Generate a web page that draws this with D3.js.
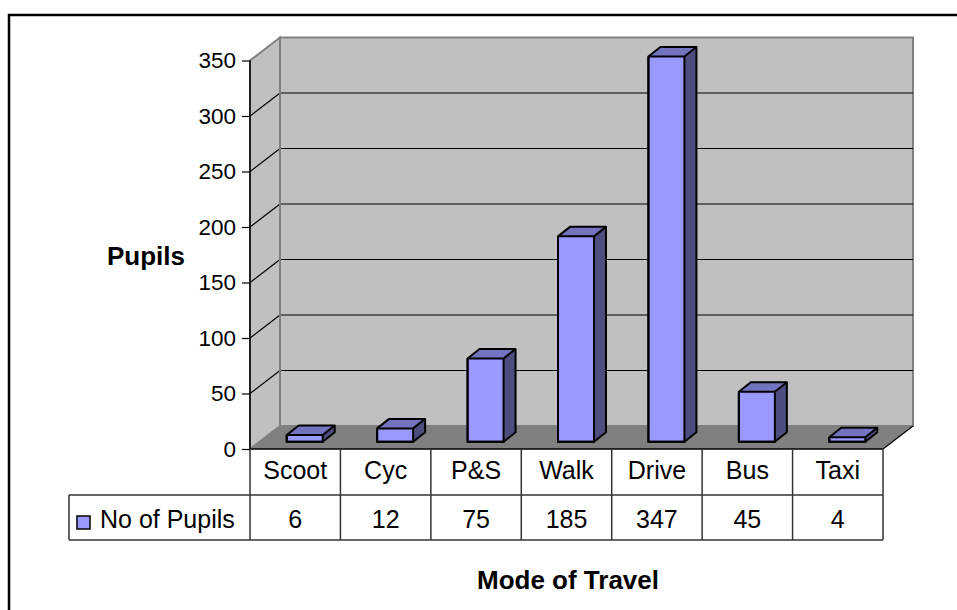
<!DOCTYPE html>
<html>
<head>
<meta charset="utf-8">
<script src="https://cdn.jsdelivr.net/npm/d3@7"></script>
<style>
  body { margin: 0; background: #fff; }
  svg text { font-family: Arial, "Liberation Sans", sans-serif; fill: #000; }
</style>
</head>
<body>
<script>
// chart values
var categories = ["Scoot", "Cyc", "P&S", "Walk", "Drive", "Bus", "Taxi"];
var pupils = [6, 12, 75, 185, 347, 45, 4];
var yTicks = [0, 50, 100, 150, 200, 250, 300, 350];
var seriesName = "No of Pupils";

var W = 957, H = 610;
// 3d depth of the plot box and of each bar
var depth = {dx: 30, dy: -23};
var barFront = {dx: 9.5, dy: -7.3};
var barDepth = {dx: 12, dy: -9.5};
var barW = 36;

var svg = d3.select("body").append("svg")
    .attr("width", W)
    .attr("height", H);

// outer frame, runs off the right and bottom edge
svg.append("rect")
    .attr("x", 9).attr("y", 15)
    .attr("width", 980).attr("height", 640)
    .style("fill", "none")
    .style("stroke", "#000")
    .style("stroke-width", 2.5);

var x = d3.scaleBand().domain(categories).range([250, 883]);
var y = d3.scaleLinear().domain([0, 350]).range([449, 60.5]);

var x0 = x.range()[0], x1 = x.range()[1];
var yTop = y(350), yBot = y(0);

function pts(a) {
    return a.map(function(p){ return p[0] + "," + p[1]; }).join(" ");
}

// side wall
svg.append("polygon")
    .attr("points", pts([[x0, yBot], [x0, yTop], [x0 + depth.dx, yTop + depth.dy],
                         [x0 + depth.dx, yBot + depth.dy]]))
    .style("fill", "#C0C0C0")
    .style("stroke", "#808080")
    .style("stroke-width", 2);

// back wall
svg.append("rect")
    .attr("x", x0 + depth.dx)
    .attr("y", yTop + depth.dy)
    .attr("width", x1 - x0)
    .attr("height", yBot - yTop)
    .style("fill", "#C0C0C0")
    .style("stroke", "#808080")
    .style("stroke-width", 2);

// gridlines on back wall and side wall
var grid = yTicks.filter(function(t){ return t > 0 && t < 350; });
svg.selectAll(".gridBack").data(grid).enter().append("line")
    .attr("x1", x0 + depth.dx).attr("x2", x1 + depth.dx)
    .attr("y1", function(d){ return y(d) + depth.dy; })
    .attr("y2", function(d){ return y(d) + depth.dy; })
    .style("stroke", "#000").style("stroke-width", 1.2);
svg.selectAll(".gridSide").data(grid).enter().append("line")
    .attr("x1", x0).attr("x2", x0 + depth.dx)
    .attr("y1", function(d){ return y(d); })
    .attr("y2", function(d){ return y(d) + depth.dy; })
    .style("stroke", "#000").style("stroke-width", 1.2);

// floor
svg.append("polygon")
    .attr("points", pts([[x0, yBot], [x1, yBot], [x1 + depth.dx, yBot + depth.dy],
                         [x0 + depth.dx, yBot + depth.dy]]))
    .style("fill", "#808080");
svg.append("line")
    .attr("x1", x1).attr("y1", yBot)
    .attr("x2", x1 + depth.dx).attr("y2", yBot + depth.dy)
    .style("stroke", "#000").style("stroke-width", 1.2);
svg.append("line")
    .attr("x1", x0 + depth.dx).attr("y1", yBot + depth.dy)
    .attr("x2", x0 + depth.dx).attr("y2", yTop + depth.dy)
    .style("stroke", "#808080").style("stroke-width", 2);

// bars
var bars = svg.selectAll(".bar").data(pupils).enter().append("g");
bars.each(function(v, i){
    var g = d3.select(this);
    var bx = x(categories[i]) + (x.bandwidth() - barW) / 2 + barFront.dx;
    var top = y(v) + barFront.dy, bot = y(0) + barFront.dy;
    g.append("polygon")
        .attr("points", pts([[bx + barW, top], [bx + barW + barDepth.dx, top + barDepth.dy],
                             [bx + barW + barDepth.dx, bot + barDepth.dy], [bx + barW, bot]]))
        .style("fill", "#4D4D80");
    g.append("polygon")
        .attr("points", pts([[bx, top], [bx + barDepth.dx, top + barDepth.dy],
                             [bx + barW + barDepth.dx, top + barDepth.dy], [bx + barW, top]]))
        .style("fill", "#7373BF");
    g.append("rect")
        .attr("x", bx).attr("y", top)
        .attr("width", barW).attr("height", bot - top)
        .style("fill", "#9999FF");
    // outline over everything
    g.append("polygon")
        .attr("points", pts([[bx, bot], [bx, top], [bx + barDepth.dx, top + barDepth.dy],
                             [bx + barW + barDepth.dx, top + barDepth.dy],
                             [bx + barW + barDepth.dx, bot + barDepth.dy], [bx + barW, bot]]))
        .style("fill", "none").style("stroke", "#000").style("stroke-width", 2)
        .style("stroke-linejoin", "round");
    g.append("polyline")
        .attr("points", pts([[bx, top], [bx + barW, top], [bx + barW, bot], [bx, bot], [bx, top]]))
        .style("fill", "none").style("stroke", "#000").style("stroke-width", 2);
    g.append("line")
        .attr("x1", bx + barW).attr("y1", top)
        .attr("x2", bx + barW + barDepth.dx).attr("y2", top + barDepth.dy)
        .style("stroke", "#000").style("stroke-width", 2);
});

// y axis
var yAxis = d3.axisLeft(y).tickValues(yTicks).tickSize(8).tickPadding(6);
var gy = svg.append("g")
    .attr("transform", "translate(" + x0 + ",0)")
    .call(yAxis);
gy.select(".domain").style("stroke", "#000").style("stroke-width", 1.5)
    .attr("d", "M0," + yBot + "V" + yTop);
gy.selectAll(".tick line").style("stroke", "#000").style("stroke-width", 1.2);
gy.selectAll(".tick text")
    .style("font-size", "22.5px")
    .style("font-family", "Arial, 'Liberation Sans', sans-serif")
    .attr("fill", "#000");

// data table
var row1 = yBot, row2 = 495, row3 = 540, legendX = 69;
var lineColor = "#333";
svg.append("line").attr("x1", x0).attr("x2", x1).attr("y1", row1).attr("y2", row1)
    .style("stroke", "#000").style("stroke-width", 1.5);
[row2, row3].forEach(function(r){
    svg.append("line").attr("x1", legendX).attr("x2", x1).attr("y1", r).attr("y2", r)
        .style("stroke", lineColor).style("stroke-width", 1.5);
});
var cols = categories.map(function(c){ return x(c); }).concat([x1]);
svg.selectAll(".colLine").data(cols).enter().append("line")
    .attr("x1", function(d){ return d; }).attr("x2", function(d){ return d; })
    .attr("y1", row1).attr("y2", row3)
    .style("stroke", lineColor).style("stroke-width", 1.5);
svg.append("line").attr("x1", legendX).attr("x2", legendX).attr("y1", row2).attr("y2", row3)
    .style("stroke", lineColor).style("stroke-width", 1.5);

svg.selectAll(".catLabel").data(categories).enter().append("text")
    .attr("x", function(d){ return x(d) + x.bandwidth() / 2; })
    .attr("y", 479)
    .attr("text-anchor", "middle")
    .style("font-size", "25px")
    .text(function(d){ return d; });

svg.selectAll(".valLabel").data(pupils).enter().append("text")
    .attr("x", function(d, i){ return x(categories[i]) + x.bandwidth() / 2; })
    .attr("y", 528)
    .attr("text-anchor", "middle")
    .style("font-size", "25px")
    .text(function(d){ return d; });

svg.append("rect")
    .attr("x", 77).attr("y", 516)
    .attr("width", 13).attr("height", 13)
    .style("fill", "#9999FF").style("stroke", "#000").style("stroke-width", 1.5);
svg.append("text")
    .attr("x", 100).attr("y", 528)
    .style("font-size", "25px")
    .text(seriesName);

// axis titles
svg.append("text")
    .attr("x", 146).attr("y", 265)
    .attr("text-anchor", "middle")
    .style("font-size", "26px").style("font-weight", "bold")
    .text("Pupils");
svg.append("text")
    .attr("x", 568).attr("y", 589)
    .attr("text-anchor", "middle")
    .style("font-size", "26px").style("font-weight", "bold")
    .text("Mode of Travel");
</script>
</body>
</html>
